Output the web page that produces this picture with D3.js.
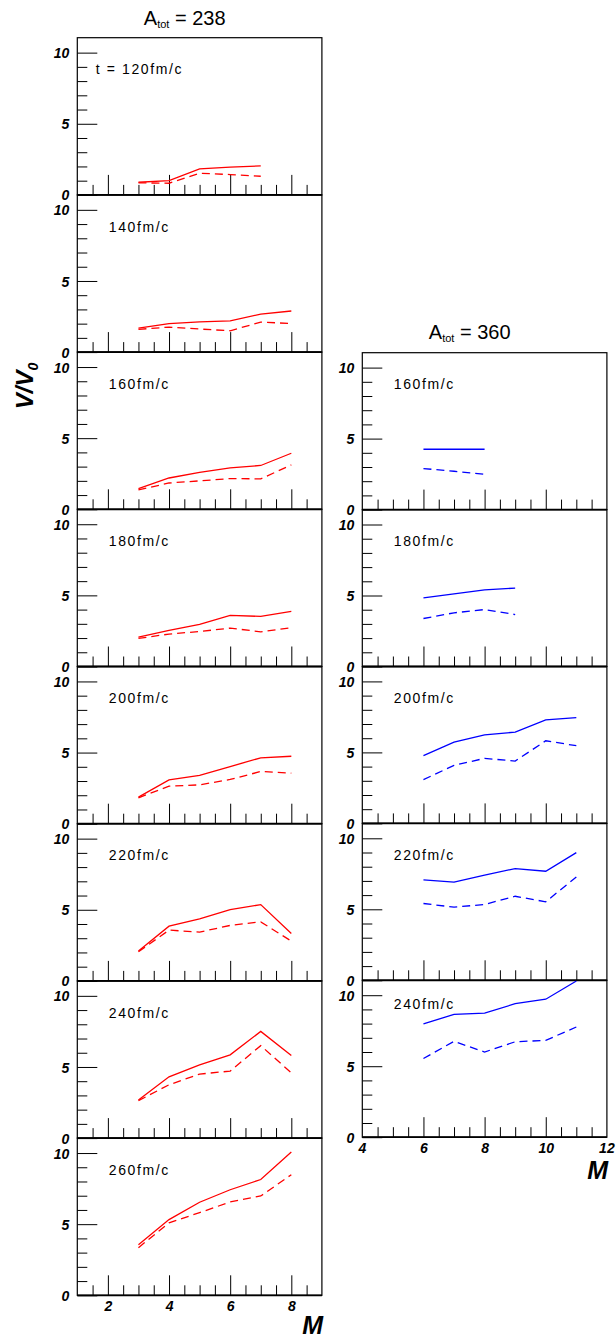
<!DOCTYPE html>
<html><head><meta charset="utf-8">
<script src="https://cdn.jsdelivr.net/npm/d3@7"></script>
<style>
html,body{margin:0;padding:0;background:#fff;}
svg{display:block;}
.tick text{font-family:"Liberation Sans",Arial,sans-serif;font-weight:bold;font-style:italic;}
</style></head>
<body>
<script>
// ---------- data ----------
const timesLeft = ["t = 120fm/c","140fm/c","160fm/c","180fm/c","200fm/c","220fm/c","240fm/c","260fm/c"];
const timesRight = ["160fm/c","180fm/c","200fm/c","220fm/c","240fm/c"];
const mLeft = [[3,4,5,6,7],[3,4,5,6,7,8],[3,4,5,6,7,8],[3,4,5,6,7,8],[3,4,5,6,7,8],[3,4,5,6,7,8],[3,4,5,6,7,8],[3,4,5,6,7,8]];
const solid238 = [
  [0.89,1.00,1.83,1.95,2.04],
  [1.69,2.00,2.13,2.20,2.67,2.89],
  [1.46,2.20,2.60,2.91,3.08,3.94],
  [2.07,2.54,2.96,3.59,3.52,3.87],
  [1.87,3.08,3.39,4.02,4.63,4.74],
  [2.10,3.85,4.36,5.01,5.36,3.33],
  [2.68,4.31,5.15,5.85,7.50,5.80],
  [3.56,5.32,6.54,7.42,8.14,10.07]
];
const dashed238 = [
  [0.85,0.82,1.52,1.43,1.31],
  [1.60,1.76,1.62,1.50,2.11,2.01],
  [1.36,1.85,2.00,2.16,2.14,3.12],
  [1.97,2.28,2.46,2.70,2.44,2.72],
  [1.82,2.64,2.73,3.11,3.67,3.55],
  [2.05,3.57,3.43,3.90,4.15,2.80],
  [2.63,3.75,4.50,4.71,6.50,4.59],
  [3.35,5.09,5.81,6.56,6.98,8.48]
];
const mRight = [[6,7,8],[6,7,8,9],[6,7,8,9,10,11],[6,7,8,9,10,11],[6,7,8,9,10,11]];
const solid360 = [
  [4.25,4.25,4.25],
  [4.84,5.12,5.40,5.52],
  [4.77,5.72,6.24,6.43,7.29,7.45],
  [7.07,6.91,7.40,7.87,7.68,8.99],
  [7.98,8.65,8.74,9.40,9.72,11.0]
];
const dashed360 = [
  [2.89,2.70,2.49],
  [3.38,3.78,4.01,3.66],
  [3.08,4.09,4.58,4.39,5.82,5.47],
  [5.41,5.15,5.34,5.92,5.53,7.28],
  [5.54,6.75,6.00,6.72,6.82,7.76]
];
const xDomLeft = [1,9], xDomRight = [4,12];
const xMajorLeft = [2,4,6,8], xMajorRight = [4,6,8,10,12];
const yDom = [0,11.05];
const yMajor = [0,5,10], yMinor = [1,2,3,4,6,7,8,9];

// ---------- layout ----------
const W = 616, H = 1340;
const svg = d3.select("body").append("svg").attr("width",W).attr("height",H);
const pw = 244.6, phL = 157.2, phR = 156.9;
const leftX = 77.3, leftTop = 37.7, rightX = 362.3, rightTop = 352.7;
const fontSans = "'Liberation Sans',Arial,sans-serif";

let clipId = 0;
function panel(px, py, ph, xDom, xMajor, xs, sVals, dVals, color, label, labelX, labelDy, bottom) {
  const g = svg.append("g").attr("transform",`translate(${px},${py})`);
  const x = d3.scaleLinear().domain(xDom).range([0,pw]);
  const y = d3.scaleLinear().domain(yDom).range([ph,0]);
  const xMinor = d3.range(xDom[0]+0.5, xDom[1], 0.5).filter(v => !xMajor.includes(v));
  // y ticks
  g.append("g").call(d3.axisLeft(y).tickValues(yMinor).tickSize(-10).tickFormat(""))
    .call(a=>a.select(".domain").remove());
  g.append("g").call(d3.axisLeft(y).tickValues(yMajor).tickSize(-20).tickPadding(8).tickFormat(d3.format("d")))
    .call(a=>a.select(".domain").remove())
    .call(a=>a.selectAll("text").attr("font-size",14).attr("dy","0.36em").attr("fill","#000"));
  // x ticks
  g.append("g").attr("transform",`translate(0,${ph})`)
    .call(d3.axisBottom(x).tickValues(xMinor).tickSize(-10).tickFormat(""))
    .call(a=>a.select(".domain").remove());
  g.append("g").attr("transform",`translate(0,${ph})`)
    .call(d3.axisBottom(x).tickValues(xMajor.filter(v=>v>xDom[0]&&v<xDom[1])).tickSize(-20).tickPadding(6).tickFormat(bottom? d3.format("d") : ""))
    .call(a=>a.select(".domain").remove())
    .call(a=>a.selectAll("text").attr("font-size",14).attr("fill","#000"));
  if (bottom) {
    xMajor.filter(v=>v===xDom[0]||v===xDom[1]).forEach(v=>{
      g.append("text").attr("x",x(v)).attr("y",ph+6).attr("dy","0.71em").attr("text-anchor","middle")
        .attr("font-family",fontSans).attr("font-weight","bold").attr("font-style","italic").attr("font-size",14).text(v);
    });
  }
  g.selectAll(".tick line").attr("stroke","#000").attr("stroke-width",1);
  // frame
  g.append("rect").attr("width",pw).attr("height",ph).attr("fill","none").attr("stroke","#000").attr("stroke-width",1.2);
  g.append("line").attr("x1",0).attr("x2",pw).attr("y1",ph).attr("y2",ph).attr("stroke","#000").attr("stroke-width",1.8);
  // clip
  const cid = "c"+(clipId++);
  g.append("clipPath").attr("id",cid).append("rect").attr("width",pw).attr("height",ph);
  const line = d3.line().x(d=>x(d[0])).y(d=>y(d[1]));
  const gl = g.append("g").attr("clip-path",`url(#${cid})`);
  gl.append("path").datum(d3.zip(xs,sVals)).attr("d",line).attr("fill","none").attr("stroke",color).attr("stroke-width",1.3);
  gl.append("path").datum(d3.zip(xs,dVals)).attr("d",line).attr("fill","none").attr("stroke",color).attr("stroke-width",1.3).attr("stroke-dasharray","8,5");
  // label
  g.append("text").attr("x",labelX).attr("y",labelDy).attr("font-family",fontSans).attr("font-size",14)
    .attr("letter-spacing","1.6px").attr("fill","#000").text(label);
}

timesLeft.forEach((t,i)=>{
  panel(leftX, leftTop+i*phL, phL, xDomLeft, xMajorLeft, mLeft[i], solid238[i], dashed238[i], "#ff0000",
        t, i===0?18.5:31.5, 36.8, i===timesLeft.length-1);
});
timesRight.forEach((t,i)=>{
  panel(rightX, rightTop+i*phR, phR, xDomRight, xMajorRight, mRight[i], solid360[i], dashed360[i], "#0000ff",
        t, 31.5, i===timesRight.length-1?29:36.5, i===timesRight.length-1);
});

// titles
function title(cx, by, val){
  const t = svg.append("text").attr("x",cx).attr("y",by).attr("text-anchor","middle")
    .attr("font-family",fontSans).attr("font-size",20).attr("fill","#000");
  t.append("tspan").text("A");
  t.append("tspan").attr("font-size",11).attr("dy",3).text("tot");
  t.append("tspan").attr("dy",-3).text(" = "+val);
}
title(184.7, 25, "238");
title(469.7, 339.3, "360");

// axis titles
const yl = svg.append("text").attr("transform","translate(33,386) rotate(-90)").attr("text-anchor","middle")
  .attr("font-family",fontSans).attr("font-weight","bold").attr("font-style","italic").attr("font-size",24);
yl.append("tspan").text("V/V");
yl.append("tspan").attr("font-size",14).attr("dy",5).text("0");
svg.append("text").attr("x",323).attr("y",1334).attr("text-anchor","end").attr("font-family",fontSans)
  .attr("font-weight","bold").attr("font-style","italic").attr("font-size",25).text("M");
svg.append("text").attr("x",608).attr("y",1179).attr("text-anchor","end").attr("font-family",fontSans)
  .attr("font-weight","bold").attr("font-style","italic").attr("font-size",25).text("M");
</script>
</body></html>
